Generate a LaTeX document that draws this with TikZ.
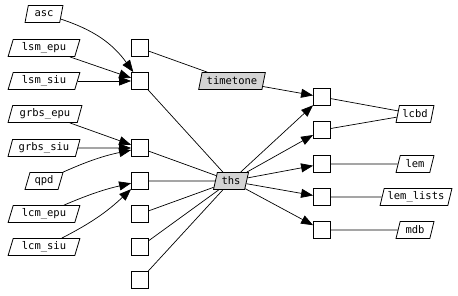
\documentclass[tikz,border=0pt]{standalone}
\usepackage{fontspec}
\newfontfamily\monofam{DejaVu Sans Mono}
\usetikzlibrary{shapes.geometric,arrows.meta}
\begin{document}
\begin{tikzpicture}[x=1pt,y=-1pt,
  every node/.style={font=\monofam\fontsize{10.5}{12}\selectfont},
  data/.style={draw, line width=0.8pt, trapezium, trapezium left angle=70, trapezium right angle=110,
    trapezium stretches=true, minimum height=17pt, inner xsep=1pt, inner ysep=0pt},
  gdata/.style={data, fill=black!17},
  sq/.style={draw, line width=0.8pt, minimum size=17pt, inner sep=0pt},
  ln/.style={draw, line width=0.7pt},
  arr/.style={ln, -{Triangle[length=12pt,width=9pt]}}]
\useasboundingbox (0,0) rectangle (458,296);
% left data
\node[data, minimum width=38pt] (asc) at (44,14) {asc};
\node[data, minimum width=72pt] (lsmepu) at (44,48) {lsm\_epu};
\node[data, minimum width=72pt] (lsmsiu) at (44,81) {lsm\_siu};
\node[data, minimum width=74pt] (grbsepu) at (45,114) {grbs\_epu};
\node[data, minimum width=72pt] (grbssiu) at (44,148) {grbs\_siu};
\node[data, minimum width=38pt] (qpd) at (44,181) {qpd};
\node[data, minimum width=72pt] (lcmepu) at (44,214) {lcm\_epu};
\node[data, minimum width=72pt] (lcmsiu) at (44,247) {lcm\_siu};
% left squares
\node[sq] (s1) at (140,48) {};
\node[sq] (s2) at (140,81) {};
\node[sq] (s3) at (140,148) {};
\node[sq] (s4) at (140,181) {};
\node[sq] (s5) at (140,214) {};
\node[sq] (s6) at (140,247) {};
\node[sq] (s7) at (140,280) {};
% middle
\node[gdata, minimum width=67pt] (timetone) at (232,81) {timetone};
\node[gdata, minimum width=35pt] (ths) at (231,181) {ths};
% right squares
\node[sq] (r1) at (322,97) {};
\node[sq] (r2) at (322,130) {};
\node[sq] (r3) at (322,164) {};
\node[sq] (r4) at (322,197) {};
\node[sq] (r5) at (322,230) {};
% right data
\node[data, minimum width=38pt] (lcbd) at (415,114) {lcbd};
\node[data, minimum width=38pt] (lem) at (415,164) {lem};
\node[data, minimum width=72pt] (lemlists) at (416,197) {lem\_lists};
\node[data, minimum width=38pt] (mdb) at (415,230) {mdb};
% left arrows
\draw[arr] (asc) to[bend left=18] (s2);
\draw[arr] (lsmepu) -- (s2);
\draw[arr] (lsmsiu) -- (s2);
\draw[arr] (grbsepu) -- (s3);
\draw[arr] (grbssiu) -- (s3);
\draw[arr] (qpd) to[bend left=6] (s3);
\draw[arr] (lcmepu) to[bend left=5] (s4);
\draw[arr] (lcmsiu) to[bend right=8] (s4);
% middle lines
\draw[ln] (s1) -- (timetone);
\foreach \s in {s2,s3,s4,s5,s6,s7} \draw[ln] (\s) -- (ths);
\draw[arr] (timetone) -- (r1);
\foreach \r in {r1,r2,r3,r4,r5} \draw[arr] (ths) -- (\r);
% right lines
\draw[ln] (r1) -- (lcbd);
\draw[ln] (r2) -- (lcbd);
\draw[ln] (r3) -- (lem);
\draw[ln] (r4) -- (lemlists);
\draw[ln] (r5) -- (mdb);
\end{tikzpicture}
\end{document}
